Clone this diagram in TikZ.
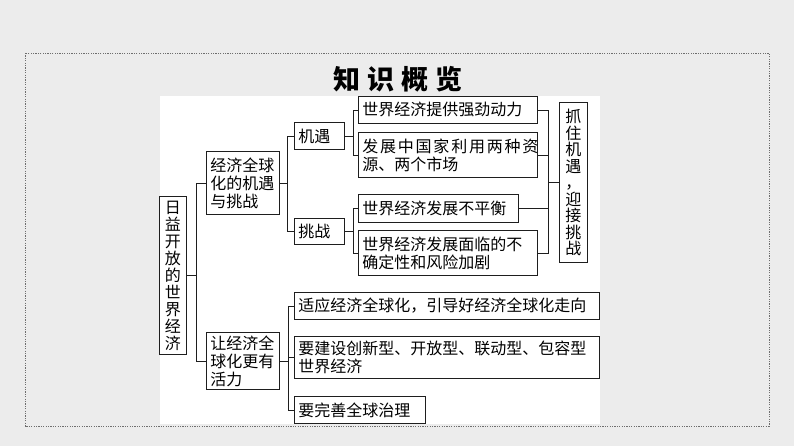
\documentclass[tikz,border=0pt]{standalone}
\usepackage{fontspec}
\setmainfont{Noto Sans CJK SC}
\usetikzlibrary{calc}
\definecolor{bgcolor}{RGB}{236,236,236}
\definecolor{framecolor}{RGB}{110,110,110}
\definecolor{linecolor}{RGB}{30,30,30}

\begin{document}
\begin{tikzpicture}[
    x=1pt, y=-1pt,
    every node/.style={font=\fontsize{16}{18}\selectfont},
    box/.style={rectangle, draw=linecolor, line width=0.9pt, fill=white, anchor=north west, inner xsep=4pt, inner ysep=0pt, align=left},
    vbox/.style={rectangle, draw=linecolor, line width=0.9pt, fill=white, anchor=north west, inner sep=0pt, align=center},
    link/.style={draw=linecolor, line width=0.8pt}
]

% Background, dotted frame and white panel
\fill[bgcolor] (0,0) rectangle (794,446);
\draw[framecolor, dash pattern=on 1.2pt off 1.2pt, line width=0.8pt] (25,53) rectangle (769,426);
\fill[white] (160,96) rectangle (600,424);

% Title
\node[font=\fontsize{27}{27}\selectfont\bfseries] (title) at (398,79) {知\hspace{7pt}识\hspace{7pt}概\hspace{7pt}览};

% Root - vertical text
\node[vbox, minimum width=27pt, minimum height=158pt, font=\fontsize{16}{17}\selectfont] (root) at (159,196) {日\\益\\开\\放\\的\\世\\界\\经\\济};

% Second level
\node[box, text width=65pt, minimum height=63pt] (chance) at (206,151) {经济全球\\化的机遇\\与挑战};
\node[box, text width=65pt, minimum height=57pt] (vigor) at (206,332) {让经济全\\球化更有\\活力};

% Opportunity and challenge
\node[box, text width=42pt, minimum height=27pt] (jiyu) at (294,122) {机遇};
\node[box, text width=42pt, minimum height=26pt] (tiaozhan) at (294,218) {挑战};

% Leaves of the upper branch
\node[box, text width=171pt, minimum height=27pt] (s1) at (358,96) {世界经济提供强劲动力};
\node[box, text width=171pt, minimum height=45pt] (s2) at (358,132) {{\addfontfeature{LetterSpace=11}发展中国家利用两种资}\\源、两个市场};
\node[box, text width=152pt, minimum height=28pt] (s3) at (358,194) {世界经济发展不平衡};
\node[box, text width=171pt, minimum height=45pt] (s4) at (358,230) {世界经济发展面临的不\\确定性和风险加剧};

% Conclusion - vertical text
\node[vbox, minimum width=28pt, minimum height=160pt, font=\fontsize{16}{16.5}\selectfont] (grasp) at (559,102) {抓\\住\\机\\遇\\，\\迎\\接\\挑\\战};

% Leaves of the lower branch
\node[box, text width=297pt, minimum height=27pt] (t1) at (294,292) {适应经济全球化，引导好经济全球化走向};
\node[box, text width=297pt, minimum height=42pt] (t2) at (294,336) {要建设创新型、开放型、联动型、包容型\\世界经济};
\node[box, text width=123pt, minimum height=27pt] (t3) at (294,396) {要完善全球治理};

% Bus points
\coordinate (b0) at ($(root.east)+(9,0)$);
\coordinate (b1) at ($(chance.east)+(7,0)$);
\coordinate (b2) at ($(jiyu.east)+(8,0)$);
\coordinate (b3) at ($(tiaozhan.east)+(8,0)$);
\coordinate (b4) at ($(grasp.west)+(-11,0)$);
\coordinate (b5) at ($(vigor.east)+(8,0)$);

% Connectors
\draw[link] (root.east) -- (b0);
\draw[link] (b0) |- (chance.west);
\draw[link] (b0) |- (vigor.west);
\draw[link] (chance.east) -- (b1);
\draw[link] (b1) |- (jiyu.west);
\draw[link] (b1) |- (tiaozhan.west);
\draw[link] (jiyu.east) -- (b2);
\draw[link] (b2) |- (s1.west);
\draw[link] (b2) |- (s2.west);
\draw[link] (tiaozhan.east) -- (b3);
\draw[link] (b3) |- (s3.west);
\draw[link] (b3) |- (s4.west);
\draw[link] (s1.east) -| (b4);
\draw[link] (s2.east) -| (b4);
\draw[link] (s3.east) -| (b4);
\draw[link] (s4.east) -| (b4);
\draw[link] (b4) -- (grasp.west);
\draw[link] (vigor.east) -- (b5);
\draw[link] (b5) |- (t1.west);
\draw[link] (b5) |- (t2.west);
\draw[link] (b5) |- (t3.west);

\useasboundingbox (0,0) rectangle (794,446);

\end{tikzpicture}
\end{document}
